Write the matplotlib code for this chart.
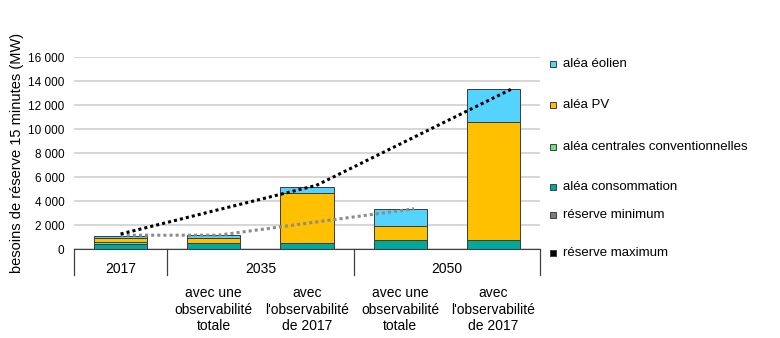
import matplotlib.pyplot as plt
import numpy as np

plt.rcParams['font.family'] = ['Liberation Sans', 'DejaVu Sans']

# bars: 2017, 2035 (total obs), 2035 (obs 2017), 2050 (total obs), 2050 (obs 2017)
consommation = [450, 500, 480, 750, 750]
centrales = [130, 0, 0, 0, 0]
pv = [300, 400, 4220, 1170, 9800]
eolien = [200, 250, 500, 1400, 2780]

# reserve lines (own x positions)
res_max_x = [0, 2.1, 4.2]
res_max = [1250, 5300, 13350]
res_min_x = [0, 1.05, 3.15]
res_min = [1150, 1150, 3350]

years = ['2017', '2035', '2050']
sub_labels = ['', 'avec une\nobservabilité\ntotale', 'avec\nl\'observabilité\nde 2017',
              'avec une\nobservabilité\ntotale', 'avec\nl\'observabilité\nde 2017']

c_eol = '#55D3FF'
c_pv = '#FFC000'
c_cen = '#6EE27E'
c_con = '#00A99D'

fig = plt.figure(figsize=(7.8, 3.38), dpi=100)
ax = fig.add_axes([74 / 780, 89 / 338, 466 / 780, 192 / 338])

x = np.arange(len(consommation))
w = 0.57
bottom = np.zeros(len(x))
for vals, col in [(consommation, c_con), (centrales, c_cen), (pv, c_pv), (eolien, c_eol)]:
    ax.bar(x, vals, w, bottom=bottom, color=col, edgecolor='#3a3a3a', linewidth=0.7, zorder=2)
    bottom += np.array(vals)

ax.plot(res_min_x, res_min, color='#8c8c8c', lw=2.2, linestyle=(0, (1, 1)), zorder=3)
ax.plot(res_max_x, res_max, color='black', lw=2.2, linestyle=(0, (1, 1)), zorder=4)

ax.set_xlim(-0.5, 4.5)
ax.set_ylim(0, 16000)
ax.set_yticks(range(0, 16001, 2000))
ax.set_yticklabels(['0'] + [f'{v // 1000} 000' for v in range(2000, 16001, 2000)], fontsize=8.5)
ax.yaxis.grid(True, color='#d0d0d0', lw=1.2, zorder=0)
ax.tick_params(axis='y', length=0, pad=7)
ax.set_xticks([])
for s in ['top', 'right', 'left']:
    ax.spines[s].set_visible(False)
ax.spines['bottom'].set_color('#404040')
ax.set_ylabel('besoins de réserve 15 minutes (MW)', fontsize=10.5, labelpad=3)

# category axis boxes
tr = ax.get_xaxis_transform()
for xs in [-0.5, 0.5, 2.5, 4.5]:
    ax.plot([xs, xs], [0, -0.135], transform=tr, color='#404040', lw=0.9, clip_on=False)
for xc, lab in zip([0, 1.5, 3.5], years):
    ax.text(xc, -0.105, lab, transform=tr, ha='center', va='center', fontsize=10)
for xc, lab in zip(x, sub_labels):
    ax.text(xc, -0.195, lab, transform=tr, ha='center', va='top', fontsize=10, linespacing=1.22)

# legend
legend = [('aléa éolien', c_eol, 64), ('aléa PV', c_pv, 105),
          ('aléa centrales conventionnelles', c_cen, 147), ('aléa consommation', c_con, 187),
          ('réserve minimum', '#7f7f7f', 215), ('réserve maximum', 'black', 253)]
for lab, col, yp in legend:
    fy = 1 - yp / 338
    fig.patches.append(plt.Rectangle((550 / 780, fy - 3 / 338), 6 / 780, 6 / 338,
                                     transform=fig.transFigure, facecolor=col,
                                     edgecolor='#404040', lw=0.7))
    fig.text(563 / 780, fy, lab, fontsize=9.5, va='center')

fig.savefig('out.png', dpi=100)
